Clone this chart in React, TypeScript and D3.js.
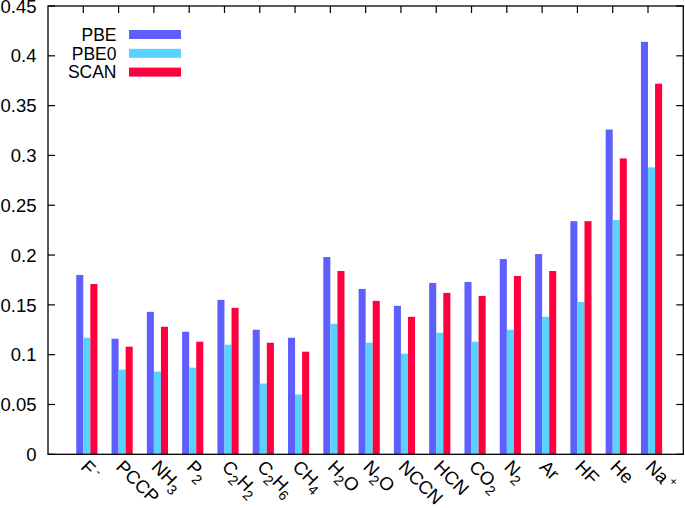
import React from "react";
import * as d3 from "d3";

const categories = ["F-", "PCCP", "NH3", "P2", "C2H2", "C2H6", "CH4", "H2O", "N2O", "NCCN", "HCN", "CO2", "N2", "Ar", "HF", "He", "Na+"];
const pbe = [0.180, 0.116, 0.143, 0.123, 0.155, 0.125, 0.117, 0.198, 0.166, 0.149, 0.172, 0.173, 0.196, 0.201, 0.234, 0.326, 0.414];
const pbe0 = [0.117, 0.085, 0.083, 0.087, 0.110, 0.071, 0.060, 0.131, 0.112, 0.101, 0.122, 0.113, 0.125, 0.138, 0.153, 0.235, 0.288];
const scan = [0.171, 0.108, 0.128, 0.113, 0.147, 0.112, 0.103, 0.184, 0.154, 0.138, 0.162, 0.159, 0.179, 0.184, 0.234, 0.297, 0.372];
const seriesNames = ["PBE", "PBE0", "SCAN"];
const seriesColors = ["#5f5fff", "#58d2ff", "#ff003f"];
const yTicks = [0, 0.05, 0.1, 0.15, 0.2, 0.25, 0.3, 0.35, 0.4, 0.45];

const W = 685;
const H = 508;
const left = 48;
const right = 683.3;
const top = 6;
const bottom = 454.3;
const FONT = "'Liberation Sans', Arial, Helvetica, sans-serif";
const FS = 18.5;

function parseLabel(s: string) {
  const parts: { t: string; kind: "n" | "sub" | "sup" }[] = [];
  for (let k = 0; k < s.length; k++) {
    const c = s[k];
    let kind: "n" | "sub" | "sup" = "n";
    if (/[0-9]/.test(c)) kind = "sub";
    else if ((c === "+" || c === "-") && k === s.length - 1) kind = "sup";
    parts.push({ t: c, kind });
  }
  return parts;
}

export default function App() {
  const x = d3.scaleLinear().domain([-1, 17]).range([left, right]);
  const y = d3.scaleLinear().domain([0, 0.45]).range([bottom, top]);
  const series = [pbe, pbe0, scan];
  const offsets = [-0.2, 0, 0.2];
  const bw = 0.2;

  return (
    <svg width={W} height={H} style={{ position: "absolute", left: 0, top: 0, background: "#fff" }} fontFamily={FONT}>
      <rect x={0} y={0} width={W} height={H} fill="#fff" />
      {series.map((vals, s) =>
        vals.map((v, i) => (
          <rect
            key={`${s}-${i}`}
            x={x(i + offsets[s])}
            y={y(v)}
            width={x(i + offsets[s] + bw) - x(i + offsets[s])}
            height={y(0) - y(v)}
            fill={seriesColors[s]}
          />
        ))
      )}
      {/* frame */}
      <rect x={left} y={top} width={right - left} height={bottom - top} fill="none" stroke="#000" strokeWidth={1.3} />
      {/* y ticks */}
      {yTicks.map((t) => (
        <g key={t}>
          <line x1={left} x2={left + 7} y1={y(t)} y2={y(t)} stroke="#000" strokeWidth={1.2} />
          <line x1={right - 7} x2={right} y1={y(t)} y2={y(t)} stroke="#000" strokeWidth={1.2} />
          <text x={36.5} y={y(t)} dy="0.36em" textAnchor="end" fontSize={FS} fill="#000">
            {d3.format("")(t)}
          </text>
        </g>
      ))}
      {/* top ticks */}
      {categories.map((c, i) => (
        <line key={c} x1={x(i)} x2={x(i)} y1={top} y2={top + 7} stroke="#000" strokeWidth={1.2} />
      ))}
      {/* x labels */}
      {categories.map((c, i) => {
        const ax = x(i) - 3.5;
        const ay = 468;
        return (
          <text key={c} transform={`translate(${ax},${ay}) rotate(45)`} fontSize={FS} fill="#000">
            {parseLabel(c).map((p, k) => {
              if (p.kind === "sub")
                return (
                  <tspan key={k} fontSize={14} baselineShift="-5">
                    {p.t}
                  </tspan>
                );
              if (p.kind === "sup")
                return (
                  <tspan key={k} fontSize={12} dx={3} baselineShift="7">
                    {p.t}
                  </tspan>
                );
              return <tspan key={k}>{p.t}</tspan>;
            })}
          </text>
        );
      })}
      {/* legend */}
      {seriesNames.map((n, s) => {
        const cy = 34.5 + s * 18.8;
        return (
          <g key={n}>
            <text x={116.5} y={cy} dy="0.36em" textAnchor="end" fontSize={17.5} fill="#000">
              {n}
            </text>
            <rect x={129} y={cy - 4.5} width={52} height={9} fill={seriesColors[s]} />
          </g>
        );
      })}
    </svg>
  );
}
